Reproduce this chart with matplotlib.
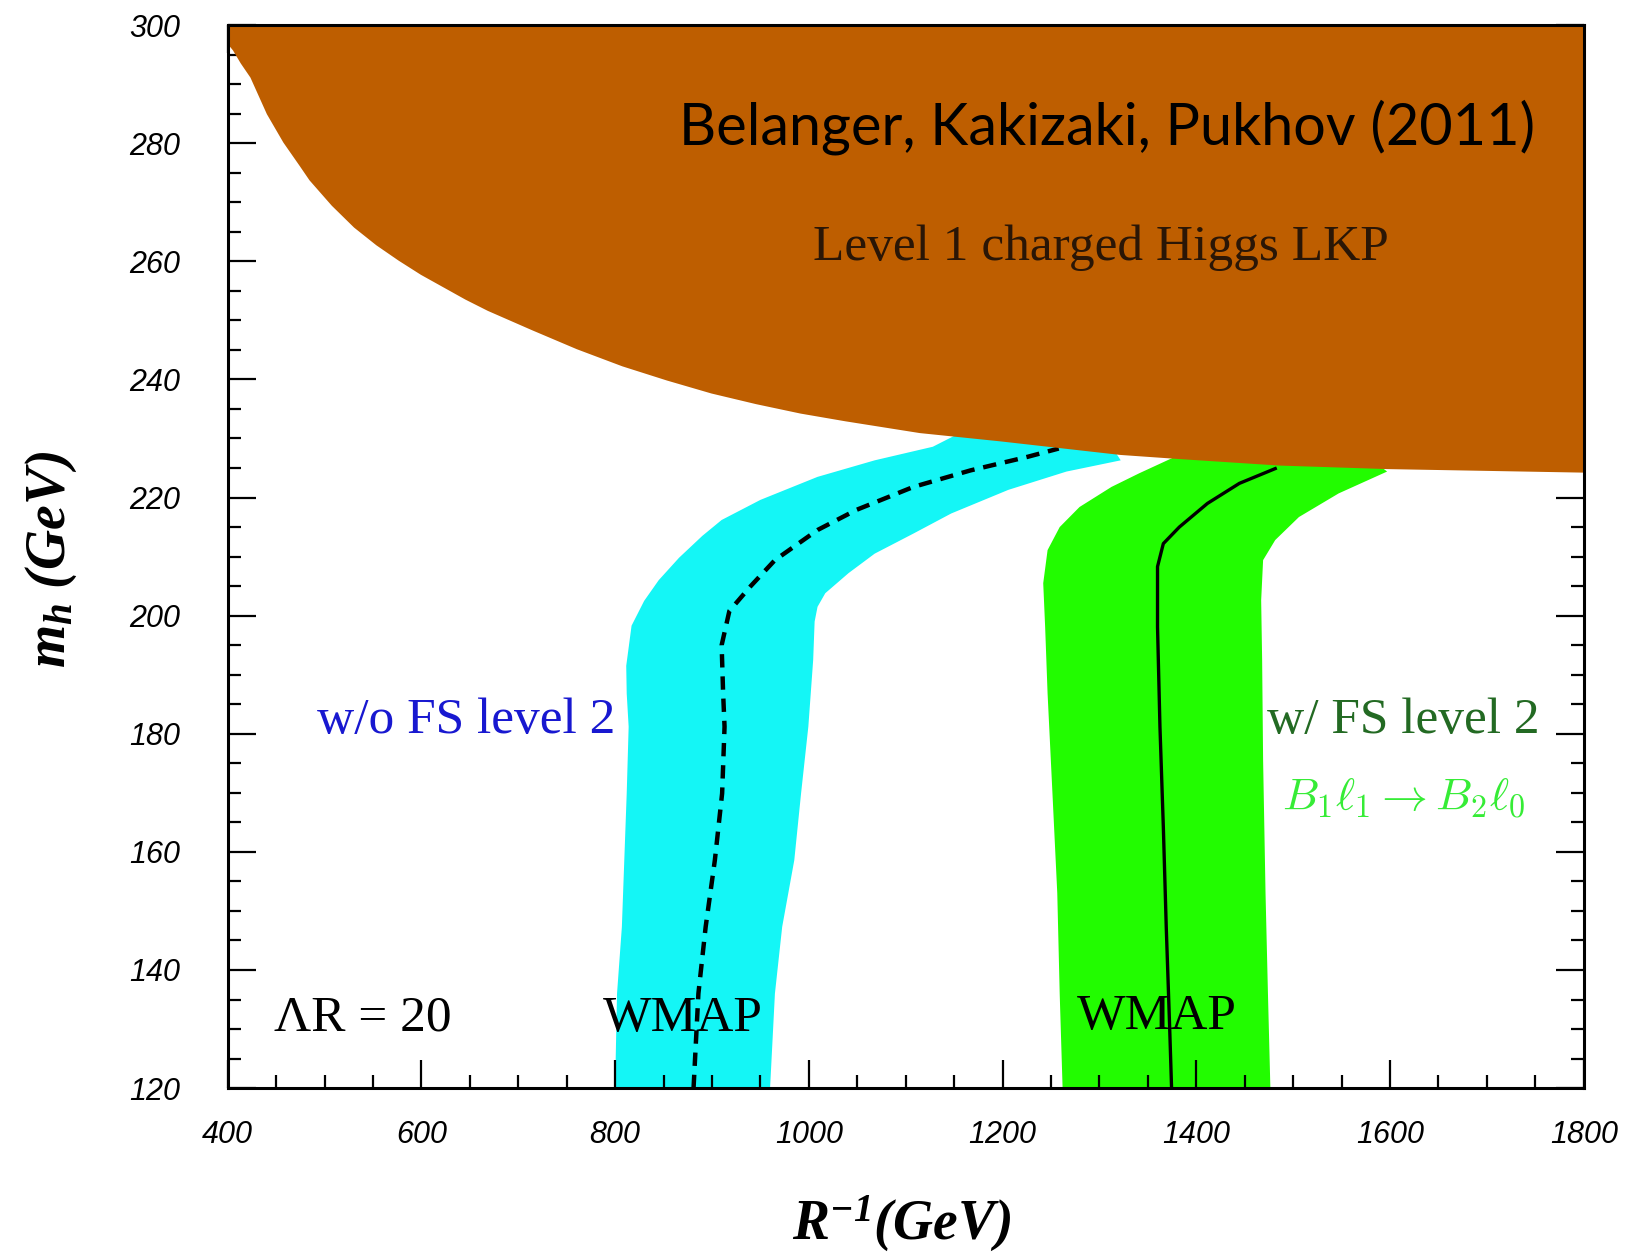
import matplotlib.pyplot as plt
from matplotlib.ticker import MultipleLocator

plt.rcParams['font.family'] = ['Liberation Sans', 'DejaVu Sans']
plt.rcParams['mathtext.fontset'] = 'custom'
plt.rcParams['mathtext.rm'] = 'Liberation Serif'
plt.rcParams['mathtext.it'] = 'Liberation Serif:italic'
plt.rcParams['mathtext.bf'] = 'Liberation Serif:italic:bold'

# lower edge of the "level 1 charged Higgs LKP" excluded region
brown_x = [400, 405, 413, 423, 440, 457, 474, 484, 507, 530, 553, 576, 599, 622, 645, 668,
           714, 760, 807, 853, 899, 945, 991, 1037, 1114, 1197, 1321, 1382, 1485, 1597, 1800]
brown_y = [296.8, 295.8, 293.6, 291.2, 285.0, 280.2, 276.2, 273.8, 269.5, 265.8, 262.8,
           260.2, 257.8, 255.7, 253.6, 251.7, 248.4, 245.2, 242.3, 239.9, 237.7, 235.9,
           234.3, 233.0, 231.0, 229.6, 227.3, 226.6, 225.5, 224.9, 224.3]

# WMAP band w/o FS level 2 (outline: left edge up, right edge down)
cyan_x = [800, 802, 807, 809.5, 812, 814, 812, 811.5, 817, 830, 845, 866, 890, 910, 950,
          1009, 1068, 1128, 1152, 1240, 1316, 1322, 1266, 1206, 1147, 1108, 1068, 1041,
          1017, 1009, 1006, 1004.5, 999.5, 992, 985, 972.5, 965, 960]
cyan_y = [120, 136, 147.3, 158.6, 169.9, 181.2, 186.8, 191.5, 198.3, 202.5, 206, 209.8,
          213.5, 216.2, 219.6, 223.5, 226.3, 228.6, 230.6, 229.9, 227.8, 226.3, 224.4,
          221.3, 217.3, 213.9, 210.5, 207.2, 203.8, 201.5, 199, 192.5, 181.2, 169.9,
          158.6, 147.3, 136, 120]
dash_x = [881, 886, 893.5, 903, 910.5, 913, 911.5, 910, 918, 940, 965, 1009, 1049, 1108,
          1167, 1226, 1258]
dash_y = [120, 136, 147.3, 158.6, 169.9, 181.2, 187, 195, 200.8, 205, 209.4, 214.5, 217.9,
          221.8, 224.6, 226.9, 228.3]

# WMAP band w/ FS level 2
green_x = [1262, 1259, 1256.5, 1251.5, 1246.5, 1244, 1242, 1246.5, 1259, 1279.5, 1312.5,
           1341, 1382, 1480, 1590, 1597, 1547, 1506, 1481.5, 1469, 1467, 1468, 1469,
           1471.5, 1474, 1476.5]
green_y = [120, 136, 153, 170, 186.8, 198, 205.5, 211.1, 215, 218.4, 221.8, 224.1, 227.2,
           226.2, 225.3, 224.4, 220.7, 216.7, 212.8, 209.4, 202.6, 192.5, 175.5, 153,
           136, 120]
solid_x = [1374.5, 1372.5, 1369, 1366, 1362.5, 1360, 1360, 1366, 1382.5, 1411.5, 1444.5,
           1481.5]
solid_y = [120, 130.4, 147.3, 164.2, 181.2, 198.1, 208.3, 212.2, 215, 219, 222.4, 224.9]

fig = plt.figure(figsize=(16.26, 12.55), dpi=100)
ax = fig.add_axes([0.140, 0.133, 0.834, 0.847])

ax.fill(cyan_x, cyan_y, color='#14F6F6', lw=0, zorder=1)
ax.fill(green_x, green_y, color='#22FC00', lw=0, zorder=1)
ax.plot(dash_x, dash_y, color='black', lw=3.2, ls=(0, (3, 2)), zorder=2)
ax.plot(solid_x, solid_y, color='black', lw=2.4, zorder=2)
ax.fill_between(brown_x, brown_y, 300, color='#BE5E00', lw=0, zorder=3)

ax.set_xlim(400, 1800)
ax.set_ylim(120, 300)
ax.xaxis.set_major_locator(MultipleLocator(200))
ax.xaxis.set_minor_locator(MultipleLocator(50))
ax.yaxis.set_major_locator(MultipleLocator(20))
ax.yaxis.set_minor_locator(MultipleLocator(5))
ax.tick_params(which='both', direction='in', top=True, right=True, width=1.6)
ax.tick_params(which='major', length=20)
ax.tick_params(which='minor', length=9.5)
ax.tick_params(axis='x', which='major', pad=23, labelsize=22)
ax.tick_params(axis='y', which='major', pad=34, labelsize=22)
for lab in ax.get_xticklabels() + ax.get_yticklabels():
    lab.set_fontstyle('italic')
for sp in ax.spines.values():
    sp.set_linewidth(2.2)
    sp.set_zorder(5)

ax.set_xlabel(r'$\mathbf{R^{-1}(GeV)}$', fontsize=40)
ax.xaxis.set_label_coords(0.497, -0.128)
ax.xaxis.label.set_va('center')
ax.set_ylabel(r'$\mathbf{m_h\ (GeV)}$', fontsize=40)
ax.yaxis.set_label_coords(-0.13, 0.497)
ax.yaxis.label.set_va('center')

serif = ['Liberation Serif', 'DejaVu Serif']
ax.text(1750, 279.7, 'Belanger, Kakizaki, Pukhov (2011)', family=['Lato', 'DejaVu Sans'],
        fontsize=41.5, color='black', ha='right', va='baseline', zorder=6)
ax.text(1301, 260.2, 'Level 1 charged Higgs LKP', family=serif, fontsize=37,
        color='#2a1606', ha='center', va='baseline', zorder=6)
ax.text(646, 180.2, 'w/o FS level 2', family=serif, fontsize=37, color='#1818d0',
        ha='center', va='baseline', zorder=6)
ax.text(1614, 180.2, 'w/ FS level 2', family=serif, fontsize=37, color='#236a23',
        ha='center', va='baseline', zorder=6)
ax.text(1614, 167.1, r'$B_1\ell_1 \rightarrow B_2\ell_0$', math_fontfamily='cm',
        fontsize=33, color='#36ec36', ha='center', va='baseline', zorder=6)
ax.text(540, 129.7, 'ΛR = 20', family=serif, fontsize=37, color='black',
        ha='center', va='baseline', zorder=6)
ax.text(870, 129.7, 'WMAP', family=serif, fontsize=37, color='black',
        ha='center', va='baseline', zorder=6)
ax.text(1359, 130.0, 'WMAP', family=serif, fontsize=37, color='black',
        ha='center', va='baseline', zorder=6)

fig.savefig('out.png', dpi=100)
